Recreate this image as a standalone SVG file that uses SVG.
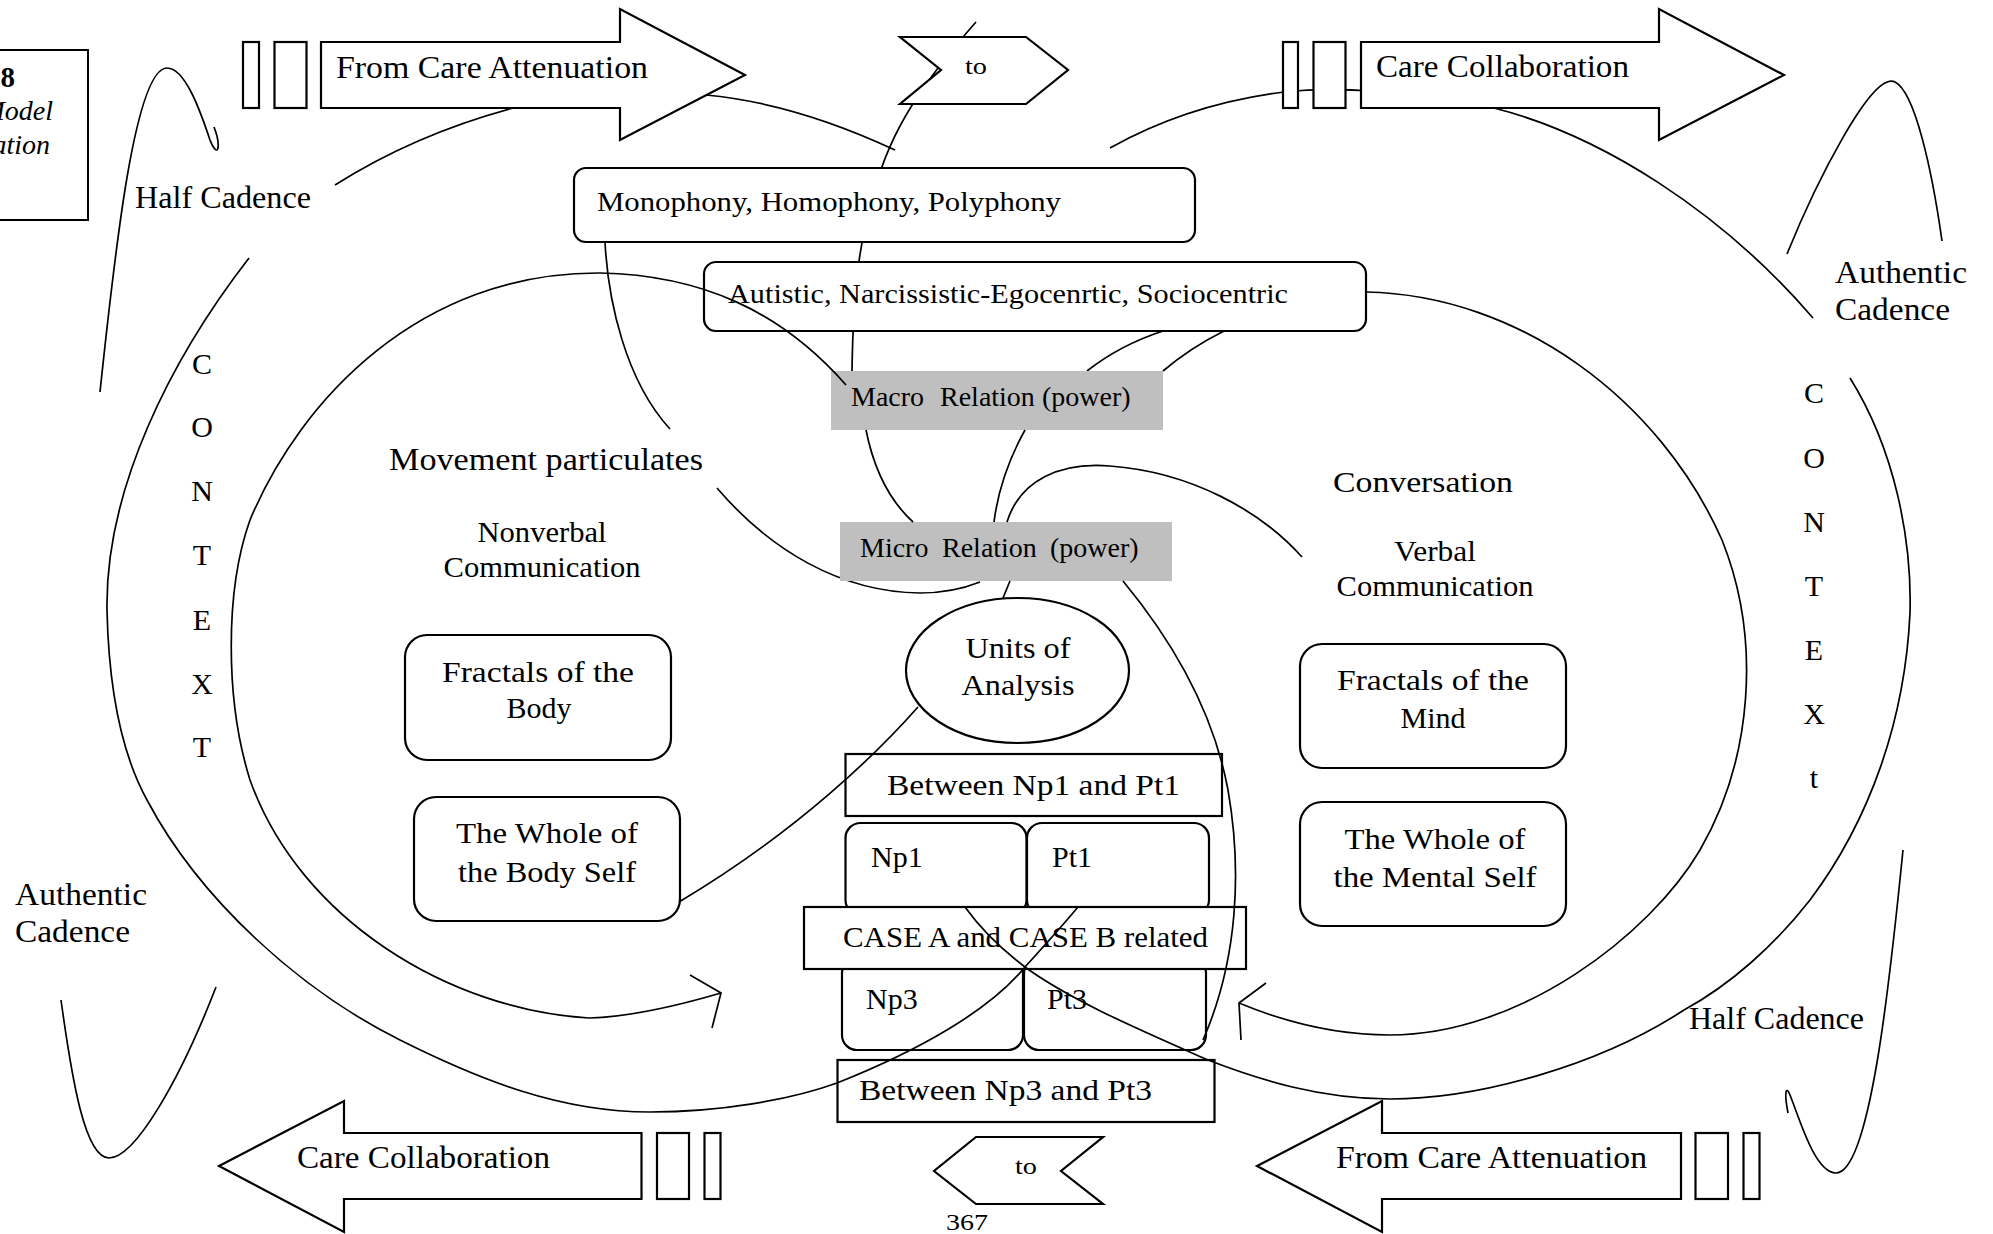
<svg xmlns="http://www.w3.org/2000/svg" width="1993" height="1234" viewBox="0 0 1993 1234">
<style>
  .ln { fill: none; stroke: #000; stroke-width: 1.7; }
  .bx { fill: #fff; stroke: #000; stroke-width: 2.2; }
  .gr { fill: #bfbfbf; stroke: none; }
  text { font-family: "Liberation Serif", "Times New Roman", serif; fill: #000; }
  .f32 { font-size: 32px; }
  .f30 { font-size: 30px; }
  .f29 { font-size: 29px; }
  .f28 { font-size: 28px; }
  .f23 { font-size: 23px; }
  .mid { text-anchor: middle; }
</style>
<rect x="0" y="0" width="1993" height="1234" fill="#fff"/>

<!-- caption box, clipped by the left page edge -->
<g id="caption">
  <rect x="-6" y="50" width="94" height="170" fill="#fff" stroke="#000" stroke-width="2"/>
  <text x="15" y="87" font-size="29" font-weight="bold" text-anchor="end">8</text>
  <text x="53" y="120" font-size="28" font-style="italic" text-anchor="end">Model</text>
  <text x="50" y="154" font-size="28" font-style="italic" text-anchor="end">ation</text>
</g>

<!-- curves that pass behind the boxes and arrows -->
<g id="connectors-back">
  <!-- upper arch of the outer left loop -->
  <path class="ln" d="M895,150 C820,115 760,100 706,95 C640,88 580,95 513,108 C450,125 390,150 335,185"/>
  <!-- upper part of the outer right loop -->
  <path class="ln" d="M1110,148 C1160,120 1220,100 1284,92 C1350,85 1430,95 1494,108 C1600,135 1720,210 1813,318"/>
  <!-- line through the upper "to" marker down to the macro relation -->
  <path class="ln" d="M976,22 C925,80 890,130 875,190 C860,235 853,290 852,372"/>
  <!-- monophony box to movement particulates -->
  <path class="ln" d="M605,242 C608,300 625,380 670,429"/>
  <!-- movement particulates sweeping under the micro relation -->
  <path class="ln" d="M717,488 C770,550 840,592 920,593 C945,593 965,588 980,582"/>
  <!-- autistic box down to the macro relation -->
  <path class="ln" d="M1163,331 Q1120,345 1087,371"/>
  <path class="ln" d="M1224,331 Q1190,348 1163,371"/>
</g>

<!-- flow arrows -->
<g id="arrow-top-left">
  <rect class="bx" x="243" y="42" width="16" height="66"/>
  <rect class="bx" x="274.5" y="42" width="32" height="66"/>
  <polygon class="bx" points="321,42 620,42 620,9 745,75 620,140 620,108 321,108"/>
  <text class="f32" x="336" y="78" textLength="312" lengthAdjust="spacingAndGlyphs">From Care Attenuation</text>
</g>
<g id="arrow-top-right">
  <rect class="bx" x="1283" y="42" width="15" height="66"/>
  <rect class="bx" x="1313.5" y="42" width="32" height="66"/>
  <polygon class="bx" points="1361,42 1659,42 1659,9 1784,75 1659,140 1659,108 1361,108"/>
  <text class="f32" x="1376" y="77" textLength="253" lengthAdjust="spacingAndGlyphs">Care Collaboration</text>
</g>
<g id="arrow-bottom-left">
  <polygon class="bx" points="641.5,1133 344,1133 344,1101 219,1166 344,1232 344,1199 641.5,1199"/>
  <rect class="bx" x="657" y="1133" width="32" height="66"/>
  <rect class="bx" x="704.5" y="1133" width="16" height="66"/>
  <text class="f32" x="297" y="1168" textLength="253" lengthAdjust="spacingAndGlyphs">Care Collaboration</text>
</g>
<g id="arrow-bottom-right">
  <polygon class="bx" points="1681,1133 1382,1133 1382,1101 1257,1166 1382,1232 1382,1199 1681,1199"/>
  <rect class="bx" x="1695.5" y="1133" width="32.5" height="66"/>
  <rect class="bx" x="1743.5" y="1133" width="16" height="66"/>
  <text class="f32" x="1336" y="1168" textLength="311" lengthAdjust="spacingAndGlyphs">From Care Attenuation</text>
</g>

<!-- "to" markers -->
<g id="to-top">
  <polygon class="bx" points="900,37 1026,37 1068,70 1026,104 900,104 941,70"/>
  <text class="f23" x="965" y="74" textLength="22" lengthAdjust="spacingAndGlyphs">to</text>
</g>
<g id="to-bottom">
  <polygon class="bx" points="976,1137 1103,1137 1061,1171 1103,1204 976,1204 934,1171"/>
  <text class="f23" x="1015" y="1174" textLength="22" lengthAdjust="spacingAndGlyphs">to</text>
</g>

<!-- central stack -->
<g id="texture">
  <rect class="bx" x="574" y="168" width="621" height="74" rx="12"/>
  <text class="f28" x="597" y="211" textLength="464" lengthAdjust="spacingAndGlyphs">Monophony, Homophony, Polyphony</text>
</g>
<g id="centricity">
  <rect class="bx" x="704" y="262" width="662" height="69" rx="12"/>
  <text class="f28" x="728" y="303" textLength="560" lengthAdjust="spacingAndGlyphs">Autistic, Narcissistic-Egocenrtic, Sociocentric</text>
</g>
<g id="macro-relation">
  <rect class="gr" x="831" y="371" width="332" height="59"/>
  <text class="f28" y="406"><tspan x="851">Macro</tspan><tspan x="940">Relation</tspan><tspan x="1042">(power)</tspan></text>
</g>
<g id="micro-relation">
  <rect class="gr" x="840" y="522" width="332" height="59"/>
  <text class="f28" y="557"><tspan x="860">Micro</tspan><tspan x="942">Relation</tspan><tspan x="1050">(power)</tspan></text>
</g>
<g id="units">
  <ellipse class="bx" cx="1017.5" cy="670.5" rx="111.5" ry="72.5"/>
  <text class="f30 mid" x="1018" y="658" textLength="105" lengthAdjust="spacingAndGlyphs">Units of</text>
  <text class="f30 mid" x="1018" y="695" textLength="113" lengthAdjust="spacingAndGlyphs">Analysis</text>
</g>
<g id="between-np1-pt1">
  <rect class="bx" x="845.5" y="754" width="376.5" height="62"/>
  <text class="f30" x="887" y="795" textLength="293" lengthAdjust="spacingAndGlyphs">Between Np1 and Pt1</text>
</g>
<g id="np1">
  <rect class="bx" x="845.5" y="823" width="181" height="92" rx="15"/>
  <text class="f30" x="871" y="867">Np1</text>
</g>
<g id="pt1">
  <rect class="bx" x="1027" y="823" width="182" height="92" rx="15"/>
  <text class="f30" x="1052" y="867">Pt1</text>
</g>
<g id="np3">
  <rect class="bx" x="842" y="958" width="181" height="92" rx="15"/>
  <text class="f30" x="866" y="1009">Np3</text>
</g>
<g id="pt3">
  <rect class="bx" x="1024" y="958" width="182" height="92" rx="15"/>
  <text class="f30" x="1047" y="1009">Pt3</text>
</g>
<g id="cases">
  <rect class="bx" x="804" y="907" width="442" height="62"/>
  <text class="f30" x="843" y="947" textLength="365" lengthAdjust="spacingAndGlyphs">CASE A and CASE B related</text>
</g>
<g id="between-np3-pt3">
  <rect class="bx" x="837.5" y="1060" width="377" height="62"/>
  <text class="f30" x="859" y="1100" textLength="293" lengthAdjust="spacingAndGlyphs">Between Np3 and Pt3</text>
</g>

<!-- body side -->
<g id="fractals-body">
  <rect class="bx" x="405" y="635" width="266" height="125" rx="22"/>
  <text class="f30 mid" x="538" y="682" textLength="192" lengthAdjust="spacingAndGlyphs">Fractals of the</text>
  <text class="f30 mid" x="539" y="718">Body</text>
</g>
<g id="whole-body">
  <rect class="bx" x="414" y="797" width="266" height="124" rx="22"/>
  <text class="f30 mid" x="547" y="843" textLength="182" lengthAdjust="spacingAndGlyphs">The Whole of</text>
  <text class="f30 mid" x="547" y="882" textLength="178" lengthAdjust="spacingAndGlyphs">the Body Self</text>
</g>

<!-- mind side -->
<g id="fractals-mind">
  <rect class="bx" x="1300" y="644" width="266" height="124" rx="22"/>
  <text class="f30 mid" x="1433" y="690" textLength="192" lengthAdjust="spacingAndGlyphs">Fractals of the</text>
  <text class="f30 mid" x="1433" y="728">Mind</text>
</g>
<g id="whole-mind">
  <rect class="bx" x="1300" y="802" width="266" height="124" rx="22"/>
  <text class="f30 mid" x="1435" y="849" textLength="181" lengthAdjust="spacingAndGlyphs">The Whole of</text>
  <text class="f30 mid" x="1435" y="887" textLength="203" lengthAdjust="spacingAndGlyphs">the Mental Self</text>
</g>

<!-- curves drawn over the boxes -->
<g id="connectors-front">
  <!-- inner left loop ending in an open arrowhead -->
  <path class="ln" d="M846,385 C780,310 700,275 600,273 C420,272 300,400 250,520 C225,590 225,700 250,780 C300,920 450,1010 589,1018 C630,1017 680,1005 721,993"/>
  <path class="ln" d="M690,975 L721,993 L712,1028"/>
  <!-- inner right loop ending in an open arrowhead -->
  <path class="ln" d="M1366,292 C1520,295 1660,400 1722,540 C1762,640 1752,760 1700,850 C1650,935 1520,1035 1390,1035 C1330,1035 1280,1020 1239,1003"/>
  <path class="ln" d="M1266,983 L1239,1003 L1241,1040"/>
  <!-- outer left loop, lower part, crossing the case stack -->
  <path class="ln" d="M249,258 C170,360 105,490 107,610 C109,700 125,760 147,800 C200,900 300,990 400,1040 C480,1080 560,1112 650,1112 C720,1112 790,1100 837,1083 C920,1050 990,1010 1025,967 C1045,945 1063,925 1078,907"/>
  <!-- outer right loop, lower part, crossing the case stack -->
  <path class="ln" d="M1850,378 C1895,450 1912,540 1910,613 C1905,720 1870,820 1810,900 C1775,945 1730,985 1684,1010 C1600,1065 1480,1099 1390,1099 C1320,1099 1260,1080 1208,1060 C1140,1030 1070,1000 1025,967 C1000,948 980,928 965,907"/>
  <!-- macro to micro -->
  <path class="ln" d="M866,430 Q878,490 913,522"/>
  <path class="ln" d="M1025,430 Q1000,475 994,522"/>
  <!-- micro to conversation -->
  <path class="ln" d="M1007,522 C1020,480 1060,462 1110,466 C1190,472 1260,510 1302,557"/>
  <!-- micro to units of analysis -->
  <path class="ln" d="M1010,581 L1003,598"/>
  <!-- micro down to the case stack -->
  <path class="ln" d="M1123,581 C1180,650 1215,720 1228,790 C1242,870 1238,960 1203,1040"/>
  <!-- units of analysis to the whole of the body self -->
  <path class="ln" d="M918,707 C880,750 800,830 679,902"/>
  <!-- cadence strokes -->
  <path class="ln" d="M100,392 C115,250 135,68 167,68 C185,68 200,110 210,140 C213,148 217,153 218,148 C219,140 216,132 214,127"/>
  <path class="ln" d="M1787,254 C1815,185 1872,70 1895,82 C1915,92 1932,170 1942,241"/>
  <path class="ln" d="M61,1000 C72,1080 85,1158 109,1158 C135,1158 180,1080 216,987"/>
  <path class="ln" d="M1903,850 C1890,980 1870,1173 1836,1173 C1815,1173 1800,1120 1790,1095 C1786,1085 1784,1092 1788,1113"/>
</g>

<!-- free labels -->
<g id="labels">
  <text class="f32" x="135" y="208" textLength="176" lengthAdjust="spacingAndGlyphs">Half Cadence</text>
  <text class="f32" x="1835" y="283" textLength="132" lengthAdjust="spacingAndGlyphs">Authentic</text>
  <text class="f32" x="1835" y="320" textLength="115" lengthAdjust="spacingAndGlyphs">Cadence</text>
  <text class="f32" x="15" y="905" textLength="132" lengthAdjust="spacingAndGlyphs">Authentic</text>
  <text class="f32" x="15" y="942" textLength="115" lengthAdjust="spacingAndGlyphs">Cadence</text>
  <text class="f32" x="1689" y="1029" textLength="175" lengthAdjust="spacingAndGlyphs">Half Cadence</text>
  <text class="f32" x="389" y="470" textLength="314" lengthAdjust="spacingAndGlyphs">Movement particulates</text>
  <text class="f29 mid" x="542" y="542" textLength="129" lengthAdjust="spacingAndGlyphs">Nonverbal</text>
  <text class="f29 mid" x="542" y="577" textLength="197" lengthAdjust="spacingAndGlyphs">Communication</text>
  <text class="f30" x="1333" y="492" textLength="180" lengthAdjust="spacingAndGlyphs">Conversation</text>
  <text class="f29 mid" x="1435" y="561" textLength="82" lengthAdjust="spacingAndGlyphs">Verbal</text>
  <text class="f29 mid" x="1435" y="596" textLength="197" lengthAdjust="spacingAndGlyphs">Communication</text>
  <g class="f30 mid">
    <text x="202" y="374">C</text>
    <text x="202" y="437">O</text>
    <text x="202" y="501">N</text>
    <text x="202" y="565">T</text>
    <text x="202" y="630">E</text>
    <text x="202" y="694">X</text>
    <text x="202" y="757">T</text>
    <text x="1814" y="403">C</text>
    <text x="1814" y="468">O</text>
    <text x="1814" y="532">N</text>
    <text x="1814" y="596">T</text>
    <text x="1814" y="660">E</text>
    <text x="1814" y="724">X</text>
    <text x="1814" y="788">t</text>
  </g>
  <text x="946" y="1230" font-size="24" textLength="42" lengthAdjust="spacingAndGlyphs">367</text>
</g>
</svg>
